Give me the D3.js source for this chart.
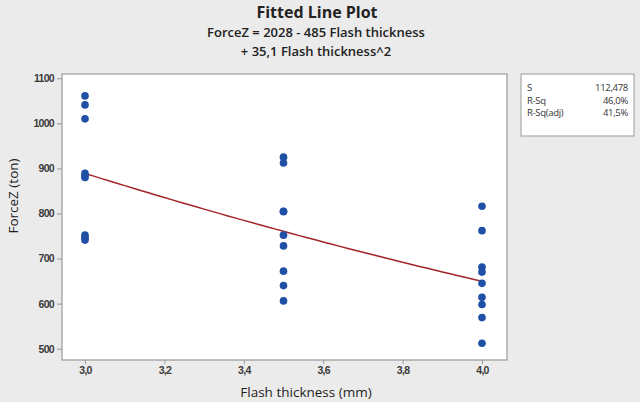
<!DOCTYPE html>
<html><head><meta charset="utf-8">
<script src="https://cdn.jsdelivr.net/npm/d3@7"></script>
<style>
html,body{margin:0;padding:0;background:#ebebeb;}
svg{display:block;font-family:"Open Sans","Noto Sans",sans-serif;}
</style></head>
<body>
<svg id="c" width="640" height="402"></svg>
<script>
// Data
const levels = [3.0, 3.5, 4.0];
const forceAt30 = [1061, 1041, 1010, 889, 884, 880, 752, 746, 741];
const forceAt35 = [925, 912, 805, 804, 752, 728, 672, 640, 606];
const forceAt40 = [816, 762, 681, 670, 645, 614, 598, 569, 512];
const coefficients = [2028, -485, 35.1]; // ForceZ = b0 + b1*x + b2*x^2
const xTicks = [3.0, 3.2, 3.4, 3.6, 3.8, 4.0];
const yTicks = [500, 600, 700, 800, 900, 1000, 1100];
const statLabels = ["S", "R-Sq", "R-Sq(adj)"];
const statValues = ["112,478", "46,0%", "41,5%"];
const titleLines = ["Fitted Line Plot", "ForceZ = 2028 - 485 Flash thickness", "+ 35,1 Flash thickness^2"];

const points = [];
[forceAt30, forceAt35, forceAt40].forEach((arr, i) => arr.forEach(v => points.push({x: levels[i], y: v})));

const svg = d3.select("#c");
const plot = {left: 62, right: 507, top: 74, bottom: 360};

const x = d3.scaleLinear().domain([3.0, 4.0]).range([85, 482]);
const y = d3.scaleLinear().domain([500, 1100]).range([348.7, 78.3]);
const fmtX = d => d3.format(".1f")(d).replace(".", ",");

// plot area
svg.append("rect").attr("x", plot.left).attr("y", plot.top)
  .attr("width", plot.right - plot.left).attr("height", plot.bottom - plot.top)
  .attr("fill", "#fff").attr("stroke", "#9a9a9a").attr("stroke-width", 1.2);

// axes
const yAxis = d3.axisLeft(y).tickValues(yTicks).tickSize(5).tickPadding(3).tickFormat(d3.format("d"));
const gy = svg.append("g").attr("transform", `translate(${plot.left},0)`).call(yAxis);
gy.select(".domain").remove();
gy.selectAll("line").attr("stroke", "#9a9a9a");
gy.selectAll("text").attr("font-size", 10.5).attr("font-weight", 600).attr("fill", "#3a3a3a").style("letter-spacing", "-0.7px");

const xAxis = d3.axisBottom(x).tickValues(xTicks).tickSize(4).tickPadding(3).tickFormat(fmtX);
const gx = svg.append("g").attr("transform", `translate(0,${plot.bottom})`).call(xAxis);
gx.select(".domain").remove();
gx.selectAll("line").attr("stroke", "#9a9a9a");
gx.selectAll("text").attr("font-size", 10.5).attr("font-weight", 600).attr("fill", "#3a3a3a").style("letter-spacing", "-0.7px");

// axis labels
svg.append("text").attr("x", 306).attr("y", 397).attr("text-anchor", "middle")
  .attr("font-size", 13.5).attr("font-weight", 500).attr("fill", "#1e1e1e").text("Flash thickness (mm)");
svg.append("text").attr("transform", "translate(18,196) rotate(-90)").attr("text-anchor", "middle")
  .attr("font-size", 13.5).attr("font-weight", 500).attr("fill", "#1e1e1e").text("ForceZ (ton)");

// titles
svg.append("text").attr("x", 317).attr("y", 18).attr("text-anchor", "middle")
  .attr("font-size", 16).attr("font-weight", "bold").attr("fill", "#222").text(titleLines[0]);
svg.append("text").attr("x", 316).attr("y", 37).attr("text-anchor", "middle")
  .attr("font-size", 13).attr("font-weight", 600).attr("fill", "#222").text(titleLines[1]);
svg.append("text").attr("x", 316).attr("y", 56).attr("text-anchor", "middle")
  .attr("font-size", 13).attr("font-weight", 600).attr("fill", "#222").text(titleLines[2]);

// fitted line
const fit = v => coefficients[0] + coefficients[1] * v + coefficients[2] * v * v;
const fx = d3.range(3.0, 4.0001, 0.02);
svg.append("path").datum(fx)
  .attr("d", d3.line().x(d => x(d)).y(d => y(fit(d))))
  .attr("fill", "none").attr("stroke", "#a3242a").attr("stroke-width", 1.5);

// points
svg.append("g").selectAll("path").data(points).join("path")
  .attr("transform", d => `translate(${x(d.x)},${y(d.y)})`)
  .attr("d", d3.symbol().type(d3.symbolCircle).size(46))
  .attr("fill", "#1f50a6");

// stats box
const box = svg.append("g");
box.append("rect").attr("x", 521).attr("y", 74).attr("width", 113).attr("height", 62)
  .attr("fill", "#fff").attr("stroke", "#9a9a9a").attr("stroke-width", 1);
statLabels.forEach((s, i) => {
  box.append("text").attr("x", 527).attr("y", 91 + i * 12.5).attr("font-size", 9.5).attr("fill", "#333").style("letter-spacing", "-0.3px").text(s);
  box.append("text").attr("x", 628).attr("y", 91 + i * 12.5).attr("text-anchor", "end").attr("font-size", 9.5).attr("fill", "#333").style("letter-spacing", "-0.3px").text(statValues[i]);
});
</script>
</body></html>
